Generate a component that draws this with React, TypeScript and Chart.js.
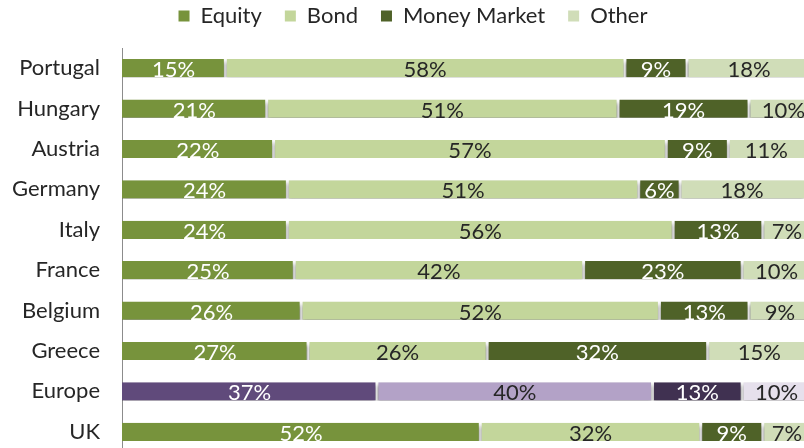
import React, { useEffect, useRef } from "react";
import { Chart, registerables } from "chart.js";
Chart.register(...registerables);

const countries = ["Portugal", "Hungary", "Austria", "Germany", "Italy", "France", "Belgium", "Greece", "Europe", "UK"];
const seriesNames = ["Equity", "Bond", "Money Market", "Other"];
const equity = [15, 21, 22, 24, 24, 25, 26, 27, 37, 52];
const bond = [58, 51, 57, 51, 56, 42, 52, 26, 40, 32];
const moneyMarket = [9, 19, 9, 6, 13, 23, 13, 32, 13, 9];
const other = [18, 10, 11, 18, 7, 10, 9, 15, 10, 7];
const highlighted = "Europe";

const greenColors = ["#77933C", "#C3D69B", "#4F6228", "#D0DDB8"];
const purpleColors = ["#604A7B", "#B3A2C7", "#403151", "#E6E0EC"];
const labelColors = ["#FFFFFF", "#262626", "#FFFFFF", "#262626"];
const FONT = "Lato";
const SHIFT = 18;
const CANVAS_H = 452 + SHIFT;
const CANVAS_W = 811;

export default function App() {
  const ref = useRef<HTMLCanvasElement>(null);
  useEffect(() => {
    const canvas = ref.current!;
    const series = [equity, bond, moneyMarket, other];
    const datasets = series.map((values, si) => ({
      label: seriesNames[si],
      data: values,
      backgroundColor: countries.map((c) => (c === highlighted ? purpleColors[si] : greenColors[si])),
      borderColor: "#FFFFFF",
      borderWidth: {
        left: si === 0 ? 0 : 1.5,
        right: si === series.length - 1 ? 0 : 1.5,
        top: 0,
        bottom: 0,
      },
      borderSkipped: false as const,
      barPercentage: 0.45,
      categoryPercentage: 1,
    }));

    const shadowPlugin = {
      id: "shadow",
      beforeDatasetsDraw(chart: any) {
        const ctx = chart.ctx;
        ctx.save();
        ctx.shadowColor = "rgba(0,0,0,0.55)";
        ctx.shadowBlur = 4;
        ctx.shadowOffsetX = 0;
        ctx.shadowOffsetY = 3;
      },
      afterDatasetsDraw(chart: any) {
        chart.ctx.restore();
      },
    };

    const labelPlugin = {
      id: "segLabels",
      afterDatasetsDraw(chart: any) {
        const ctx = chart.ctx;
        ctx.save();
        ctx.font = `22px ${FONT}`;
        ctx.textAlign = "center";
        ctx.textBaseline = "middle";
        chart.data.datasets.forEach((ds: any, di: number) => {
          const meta = chart.getDatasetMeta(di);
          meta.data.forEach((el: any, i: number) => {
            const cx = (el.x + el.base) / 2;
            ctx.fillStyle = labelColors[di];
            ctx.fillText(ds.data[i] + "%", cx, el.y + 2);
          });
        });
        ctx.restore();
      },
    };

    const legendFitPlugin = {
      id: "legendFit",
      beforeInit(chart: any) {
        const legend = chart.legend;
        if (legend) {
          const orig = legend.fit;
          legend.fit = function () {
            orig.call(this);
            this.height = 48 + SHIFT;
          };
        }
      },
      afterLayout(chart: any) {
        const legend = chart.legend;
        if (legend) {
          legend.left += 7.5;
          legend.right += 7.5;
        }
      },
    };

    const chart = new Chart(canvas, {
      type: "bar",
      data: { labels: countries, datasets },
      options: {
        indexAxis: "y",
        responsive: false,
        maintainAspectRatio: false,
        animation: false,
        layout: { padding: 0 },
        plugins: {
          tooltip: { enabled: false },
          legend: {
            display: true,
            position: "top",
            align: "center",
            labels: {
              boxWidth: 11,
              boxHeight: 11,
              padding: 23,
              color: "#262626",
              font: { family: FONT, size: 22 },
              generateLabels: () =>
                seriesNames.map((name, i) => ({
                  text: name,
                  fillStyle: greenColors[i],
                  strokeStyle: greenColors[i],
                  lineWidth: 0,
                  hidden: false,
                  datasetIndex: i,
                  fontColor: "#262626",
                })),
            },
          },
        },
        scales: {
          x: { type: "linear", stacked: true, min: 0, max: 100, display: false },
          y: {
            type: "category",
            stacked: true,
            grid: { display: false, drawTicks: false },
            border: { display: true, color: "#8C8C8C", width: 1 },
            ticks: { color: "#262626", font: { family: FONT, size: 22 }, padding: 22 },
            afterFit(scale: any) {
              scale.width = 122;
              scale.paddingTop = 0;
              scale.paddingBottom = 0;
            },
          },
        },
      },
      plugins: [legendFitPlugin, shadowPlugin, labelPlugin],
    });
    return () => chart.destroy();
  }, []);
  return (
    <div style={{ position: "fixed", left: 0, top: -SHIFT, width: CANVAS_W, height: CANVAS_H, background: "#fff" }}>
      <canvas ref={ref} width={CANVAS_W} height={CANVAS_H} style={{ display: "block", width: CANVAS_W, height: CANVAS_H }} />
    </div>
  );
}
